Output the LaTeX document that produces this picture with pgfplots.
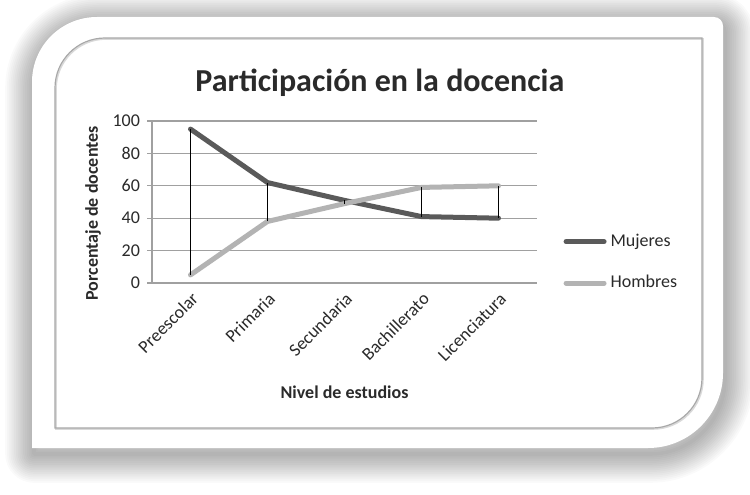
\documentclass[border=0pt]{standalone}
\usepackage{fontspec}
\setmainfont{Carlito}
\usepackage{pgfplots}
\pgfplotsset{compat=1.18}
\definecolor{muj}{HTML}{5A5A5A}
\definecolor{hom}{HTML}{B3B3B3}
\definecolor{gridc}{HTML}{A0A0A0}
\definecolor{framec}{HTML}{A8A8A8}
\definecolor{txt}{HTML}{2A2A2A}
\def\cardpath{(16pt,23pt) -- (16pt,206pt) arc[start angle=180,end angle=90,radius=32.5pt] -- (357pt,238.5pt) arc[start angle=90,end angle=0,radius=4.5pt] -- (361.5pt,60.5pt) arc[start angle=0,end angle=-90,radius=37.5pt] -- cycle}
\def\framepath{(27.5pt,33pt) -- (27.5pt,203pt) arc[start angle=180,end angle=90,radius=25pt] -- (351pt,228pt) -- (351pt,58pt) arc[start angle=0,end angle=-90,radius=25pt] -- cycle}
\begin{document}
\begin{tikzpicture}
\useasboundingbox (0,0) rectangle (375pt,247pt);
\fill[white] (0,0) rectangle (375pt,247pt);
\foreach \i in {1,...,16} {
  \pgfmathsetmacro\lw{\i*1.8}
  \draw[black, opacity=0.018, line width=\lw pt, line join=round, shift={(1pt,-3pt)}] \cardpath;
}
\fill[white] \cardpath;
\draw[black!15, line width=0.8pt, shift={(0.5pt,-0.5pt)}] \framepath;
\draw[framec, line width=0.6pt] \framepath;
\begin{axis}[
  at={(76pt,105.5pt)}, anchor=south west,
  scale only axis, width=192.5pt, height=81pt,
  xmin=-0.5, xmax=4.5, ymin=0, ymax=100,
  xtick={0,...,4},
  xticklabels={Preescolar,Primaria,Secundaria,Bachillerato,Licenciatura},
  ytick={0,20,...,100},
  ymajorgrids, grid style={gridc, line width=0.6pt},
  axis x line*=bottom, axis y line*=left,
  axis line style={gridc, line width=0.6pt, -},
  xtick style={draw=none},
  ytick style={gridc, line width=0.6pt},
  tick align=outside, major tick length=2.5pt,
  tick label style={font=\fontsize{9}{11}\selectfont, text=txt},
  x tick label style={rotate=45, anchor=north east, inner sep=1pt},
  /pgf/number format/assume math mode=true,
  xlabel={Nivel de estudios},
  ylabel={Porcentaje de docentes},
  label style={font=\bfseries\fontsize{9}{11}\selectfont, text=txt},
  xlabel style={at={(axis description cs:0.5,-0.673)}, anchor=center},
  ylabel style={at={(axis description cs:-0.153,0.43)}, anchor=center},
  title={Participación en la docencia},
  title style={at={(axis description cs:0.592,1.165)}, anchor=center, font=\bfseries\fontsize{16}{19}\selectfont, text=txt},
  legend image code/.code={\draw[#1, line cap=round] (0pt,0pt) -- (19pt,0pt);},
  legend style={at={(axis description cs:1.068,0.127)}, anchor=west, draw=none, fill=none,
    font=\fontsize{9}{11}\selectfont, text=txt, row sep=9pt, inner sep=0pt,
    /tikz/every even column/.append style={column sep=0pt}},
  legend cell align=left,
]
\addplot[muj, line width=2.5pt, line cap=round, line join=round] coordinates {(0,95) (1,62) (2,51) (3,41) (4,40)};
\addlegendentry{Mujeres}
\addplot[hom, line width=2.5pt, line cap=round, line join=round] coordinates {(0,5) (1,38) (2,49) (3,59) (4,60)};
\addlegendentry{Hombres}
\addplot[black, line width=0.5pt, unbounded coords=jump, forget plot] coordinates {(0,5) (0,95) (0.5,nan) (1,38) (1,62) (1.5,nan) (2,49) (2,51) (2.5,nan) (3,41) (3,59) (3.5,nan) (4,40) (4,60)};
\end{axis}
\end{tikzpicture}
\end{document}
